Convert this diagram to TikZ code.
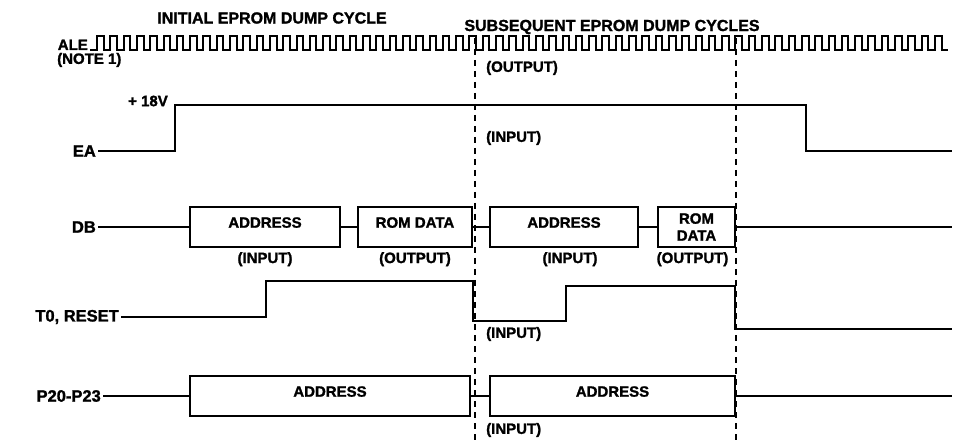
\documentclass[tikz,border=0pt]{standalone}
\usepackage{fontspec}
\setmainfont{Liberation Sans}[BoldFeatures={FakeBold=1.5}]
\usetikzlibrary{positioning}

\begin{document}
\begin{tikzpicture}[x=1pt, y=-1pt,
    sig/.style={line width=2pt, line join=miter},
    lbl/.style={font=\bfseries\fontsize{15}{17}\selectfont, inner sep=2pt},
    side/.style={lbl, font=\bfseries\fontsize{16.5}{18}\selectfont},
    ttl/.style={font=\bfseries\fontsize{16}{18}\selectfont, inner sep=0pt},
    busbox/.style={draw, line width=2pt, minimum height=40pt, inner sep=0pt, font=\bfseries\fontsize{15}{17}\selectfont},
    addr/.style={busbox, text depth=9pt},
    cyc/.style={line width=1.3pt, dash pattern=on 6pt off 5pt}]
    \useasboundingbox (0,0) rectangle (965,443);
    % titles of the two cycles
    \node[ttl] (tinit) at (272,18) {INITIAL EPROM DUMP CYCLE};
    \node[ttl] (tsub) at (612,27) {SUBSEQUENT EPROM DUMP CYCLES};
    % cycle boundaries
    \draw[cyc] (475,38) -- (475,443);
    \draw[cyc] (736,38) -- (736,443);

    % ALE
    \node[lbl, anchor=base east] (ale) at (90,50) {ALE};
    \node[lbl, anchor=west] (note) at (55,60) {(NOTE 1)};
    \draw[sig] (ale.base east) -- (97,50) \foreach \i in {0,...,63} { -- ++(0,-14) -- ++(6.6,0) -- ++(0,14) -- ++(6.7,0) };
    \node[lbl, anchor=west] (aleout) at (484,68) {(OUTPUT)};

    % EA
    \node[side, anchor=east] (ea) at (98,151) {EA};
    \node[lbl, anchor=east] (vpp) at (170,101) {+ 18V};
    \draw[sig] (ea.east) -- (175,151) -- (175,105) -- (806,105) -- (806,151) -- (952,151);
    \node[lbl, anchor=west] (eain) at (484,138) {(INPUT)};

    % DB
    \node[side, anchor=east] (db) at (98,227) {DB};
    \node[addr, minimum width=150pt] (dba1) at (265,227) {ADDRESS};
    \node[addr, minimum width=114pt] (dbr1) at (415,227) {ROM DATA};
    \node[addr, minimum width=148pt] (dba2) at (564,227) {ADDRESS};
    \node[busbox, minimum width=77pt, align=center] (dbr2) at (696.5,227) {ROM\\DATA};
    \coordinate (dbend) at (952,227);
    \draw[sig] (db.east) -- (dba1.west);
    \draw[sig] (dba1.east) -- (dbr1.west);
    \draw[sig] (dbr1.east) -- (dba2.west);
    \draw[sig] (dba2.east) -- (dbr2.west);
    \draw[sig] (dbr2.east) -- (dbend);
    \node[lbl, below=2pt of dba1] (dbin1) {(INPUT)};
    \node[lbl, below=2pt of dbr1] (dbout1) {(OUTPUT)};
    \node[lbl, below=2pt of dba2, xshift=6pt] (dbin2) {(INPUT)};
    \node[lbl, below=2pt of dbr2, xshift=-4pt] (dbout2) {(OUTPUT)};

    % T0, RESET
    \node[side, anchor=east] (tzero) at (121,317) {T0, RESET};
    \draw[sig] (tzero.east) -- (266,317) -- (266,281) -- (473,281) -- (473,321) -- (566,321) -- (566,286) -- (735,286) -- (735,329) -- (952,329);
    \node[lbl, anchor=west] (tzin) at (484,334) {(INPUT)};

    % P20-P23
    \node[side, anchor=east] (port) at (103,396) {P20-P23};
    \node[addr, minimum width=280pt] (pa1) at (330,396) {ADDRESS};
    \node[addr, minimum width=245pt] (pa2) at (612.5,396) {ADDRESS};
    \coordinate (pend) at (952,396);
    \draw[sig] (port.east) -- (pa1.west);
    \draw[sig] (pa1.east) -- (pa2.west);
    \draw[sig] (pa2.east) -- (pend);
    \node[lbl, anchor=west] (pin) at (484,430) {(INPUT)};
\end{tikzpicture}
\end{document}
